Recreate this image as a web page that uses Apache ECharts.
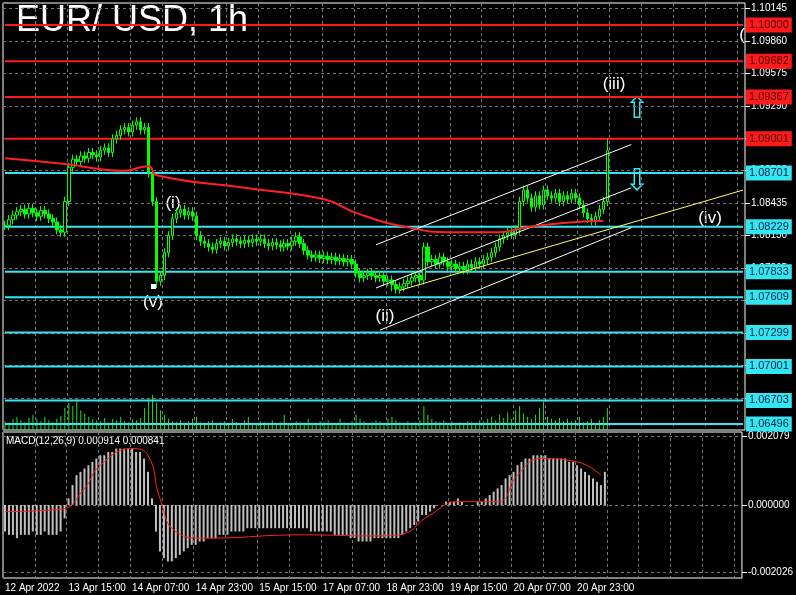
<!DOCTYPE html><html><head><meta charset="utf-8">
<script src="https://cdn.jsdelivr.net/npm/echarts@6/dist/echarts.min.js"></script>
<style>html,body{margin:0;background:#000}#c{width:796px;height:595px}</style></head><body><div id="c"></div>
<script>
// closes in pips relative to 1.08000
const closePips=[24,29,33,36,38,34,39,35,32,37,34,30,27,20,18,
45,75,82,80,85,83,88,86,84,90,92,88,100,103,108,110,106,112,115,108,110,
70,45,-25,-20,0,15,30,35,38,33,36,32,
15,10,8,5,3,8,10,6,9,12,10,8,11,9,12,
10,12,8,6,9,7,5,8,6,10,14,8,
2,-2,-4,-2,-5,-3,-6,-4,-7,-5,-8,-6,-10,
-18,-22,-20,-18,-20,
-22,-20,-25,-24,-28,-32,
-30,-27,-25,-22,-20,-24,
5,-8,
-6,-10,-4,-8,-12,-10,-14,-12,-15,-10,-13,-8,-10,-6,
-4,0,5,12,15,18,16,20,
45,55,48,40,50,42,55,50,48,52,45,50,47,52,48,42,35,30,28,32,38,45,90];
const volumes=[8,6,10,12,9,7,11,14,10,8,12,9,7,10,13,
20,25,22,28,18,15,12,10,
9,8,11,7,10,9,12,8,7,10,9,11,
20,28,32,25,18,14,10,
8,7,9,6,8,10,12,7,6,8,9,5,7,8,6,10,7,6,9,
12,6,5,8,7,6,9,5,7,14,6,5,8,7,6,10,5,6,8,7,9,6,5,10,7,6,8,
14,10,8,6,7,9,8,6,10,12,9,7,6,8,5,7,9,
22,14,10,8,7,9,6,8,5,7,6,8,7,6,9,8,
10,12,9,14,11,16,10,18,22,15,12,10,14,20,26,12,10,9,11,8,
10,8,9,12,7,8,10,6,9,12,20];
// MACD histogram in 1e-4
const macdHist=[-8,-9,-9,-10,-9,-9,-9,-8,-9,-9,-8,-9,-9,-9,-8,
-4,2,6,9,10,11,
12,13,14,15,15,16,16,17,17,17,17,17,16,16,
14,10,2,
-8,-14,-16,-17,-17,-16,-15,-14,
-13,-12,-12,-11,-11,-10,-10,-10,-9,-9,-9,-8,-8,-8,-8,
-7,-7,-7,-7,-7,-7,-7,-7,-7,-7,-7,-7,-7,-7,
-7,-7,-8,-8,-8,-8,-8,-8,-9,-9,-9,-9,
-10,-10,-11,-11,-11,-11,-10,-10,-10,-10,-10,-10,-10,-9,
-8,-7,-6,-5,-3,-3,-2,-1,0,0,
1,1,1,2,1,0,0,0,1,1,
2,3,4,5,6,8,9,10,
12,13,14,14,15,15,15,15,14,14,14,14,
14,13,13,12,11,10,9,8,7,6,10];
// [barIndex, value]
const maPts=[[0,1.0883],[15,1.0878],[30,1.0872],[34,1.0875],[36,1.0876],[38,1.0868],[60,1.0857],[80,1.0847],[88,1.0835],[100,1.0823],[112,1.0818],[124,1.0818],[130,1.0822],[140,1.0826],[150,1.0828]];
const signalPts=[[0,-0.0002],[14,-0.00013],[20,0.0005],[24,0.0012],[32,0.0017],[36,0.0015],[39,0.0002],[43,-0.0008],[50,-0.001],[75,-0.0009],[92,-0.00093],[99,-0.0009],[107,-0.0003],[114,0.0001],[124,0.0001],[129,0.0009],[135,0.0014],[144,0.0013],[150,0.0009]];
const redLevels=[1.10000,1.09682,1.09367,1.09001];
const cyanLevels=[1.08701,1.08229,1.07833,1.07609,1.07299,1.07001,1.06703,1.06496];
const priceTicks=[1.10145,1.09860,1.09575,1.09290,1.09005,1.08720,1.08435,1.08150,1.07865,1.07580,1.07295,1.07010,1.06725];
const macdTicks=[0.002079,0,-0.002026];
const timeLabels=['12 Apr 2022','13 Apr 15:00','14 Apr 07:00','14 Apr 23:00','15 Apr 15:00','17 Apr 07:00','18 Apr 23:00','19 Apr 15:00','20 Apr 07:00','20 Apr 23:00'];
const trendLines=[[[92.5,1.0807],[157,1.0895],'#fff'],[[92.5,1.0769],[157,1.0857],'#fff'],[[93.75,1.0732],[157,1.0822],'#fff'],[[98.75,1.0767],[185,1.0855],'#ffff66']];
const waveLabels=[['(i)',173,203],['(v)',153,302],['(ii)',385,316],['(iii)',614,84],['(iv)',710,218],['(',742,35]];

const N=186;
const cats=[];for(let i=0;i<N;i++)cats.push(String(i));
const ohlc=closePips.map((c,i)=>{const o=i?closePips[i-1]:c;let h=Math.max(o,c)+4,l=Math.min(o,c)-4;
 if(i===38)l=-31;if(i===97)l=-34;if(i===151)h=100;return [1.08+o/1e4,1.08+c/1e4,1.08+l/1e4,1.08+h/1e4];});
const levelSeries=[];
function addLevel(v,col,txt){levelSeries.push({type:'line',xAxisIndex:0,yAxisIndex:0,data:[[0,v],[N-1,v]],showSymbol:false,silent:true,z:3,
 lineStyle:{color:col,width:2},endLabel:{show:true,formatter:v.toFixed(5),color:txt,backgroundColor:col,padding:[2,3],fontSize:11,fontFamily:'Liberation Sans',distance:3}});}
redLevels.forEach(v=>addLevel(v,'#ff1a1a','#400'));
cyanLevels.forEach(v=>addLevel(v,'#33e6f2','#024'));
const ml=trendLines.map(t=>[{coord:t[0],lineStyle:{color:t[2],width:1,type:'solid'},label:{show:false}},{coord:t[1]}]);
const gridStyle={lineStyle:{color:'#777',type:[3,3],width:1}};
const chart=echarts.init(document.getElementById('c'));
chart.setOption({backgroundColor:'#000',animation:false,
grid:[{left:3,right:51,top:3,height:427,show:true,borderColor:'#fff',borderWidth:1},{left:3,right:51,top:432,bottom:17,show:true,borderColor:'#fff',borderWidth:1}],
xAxis:[0,1].map(g=>({type:'category',data:cats,gridIndex:g,boundaryGap:true,
 axisLine:{show:false},axisTick:{show:false},
 splitLine:{show:true,interval:(i)=>i%8===0,...gridStyle},
 axisLabel:{show:g===1,interval:0,align:'left',color:'#fff',fontSize:10,fontFamily:'Liberation Sans',margin:5,formatter:(v)=>{const i=+v;return i%16===0&&timeLabels[i/16]?timeLabels[i/16]:'';}}})),
yAxis:[{type:'value',gridIndex:0,position:'right',min:1.06443,max:1.10193,
 axisLine:{show:false},axisTick:{show:true,customValues:priceTicks,lineStyle:{color:'#fff'}},
 axisLabel:{customValues:priceTicks,color:'#fff',fontSize:10,fontFamily:'Liberation Sans',margin:6,formatter:v=>v.toFixed(5)},splitLine:{show:true,...gridStyle}},
 {type:'value',gridIndex:1,position:'right',min:-0.0022,max:0.0022,axisLine:{show:false},
 axisTick:{show:true,customValues:macdTicks,lineStyle:{color:'#fff'}},
 axisLabel:{customValues:macdTicks,color:'#fff',fontSize:10,fontFamily:'Liberation Sans',margin:6,formatter:v=>v.toFixed(6)},splitLine:{show:true,...gridStyle}},
 {type:'value',gridIndex:0,min:0,max:390,show:false}],
series:[
 {type:'bar',xAxisIndex:0,yAxisIndex:2,data:volumes,barWidth:1,itemStyle:{color:'#22dd22'},silent:true},
 ...levelSeries,
 {type:'candlestick',xAxisIndex:0,yAxisIndex:0,data:ohlc,barWidth:3,z:4,
  itemStyle:{color:'#000',color0:'#00ff00',borderColor:'#00ff00',borderColor0:'#00ff00',borderWidth:1},
  markLine:{symbol:'none',silent:true,animation:false,data:ml}},
 {type:'line',xAxisIndex:0,yAxisIndex:0,data:maPts,showSymbol:false,smooth:true,z:5,lineStyle:{color:'#ff2020',width:2}},
 {type:'bar',xAxisIndex:1,yAxisIndex:1,data:macdHist.map(v=>v/1e4),barWidth:2,itemStyle:{color:'#c0c0c0'}},
 {type:'line',xAxisIndex:1,yAxisIndex:1,data:signalPts,showSymbol:false,smooth:true,lineStyle:{color:'#ff2020',width:1}}
],
graphic:[
 {type:'text',left:16,top:3,style:{text:'EUR/ USD, 1h',fill:'#fff',font:'36px "Liberation Sans"'}},
 {type:'text',left:6,top:436,style:{text:'MACD(12,26,9) 0.000914 0.000841',fill:'#fff',font:'10px "Liberation Sans"'}},
 {type:'text',x:637,y:110,style:{text:'⇧',fill:'#33e6f2',font:'30px "DejaVu Sans"',align:'center',verticalAlign:'middle'}},
 {type:'text',x:637,y:182,style:{text:'⇩',fill:'#33e6f2',font:'30px "DejaVu Sans"',align:'center',verticalAlign:'middle'}},
 {type:'rect',shape:{x:151,y:284,width:5,height:5},style:{fill:'#fff'}},
 ...waveLabels.map(w=>({type:'text',x:w[1],y:w[2],style:{text:w[0],fill:'#fff',font:'17px "Liberation Sans"',align:'center',verticalAlign:'middle'}}))
]});
</script></body></html>
